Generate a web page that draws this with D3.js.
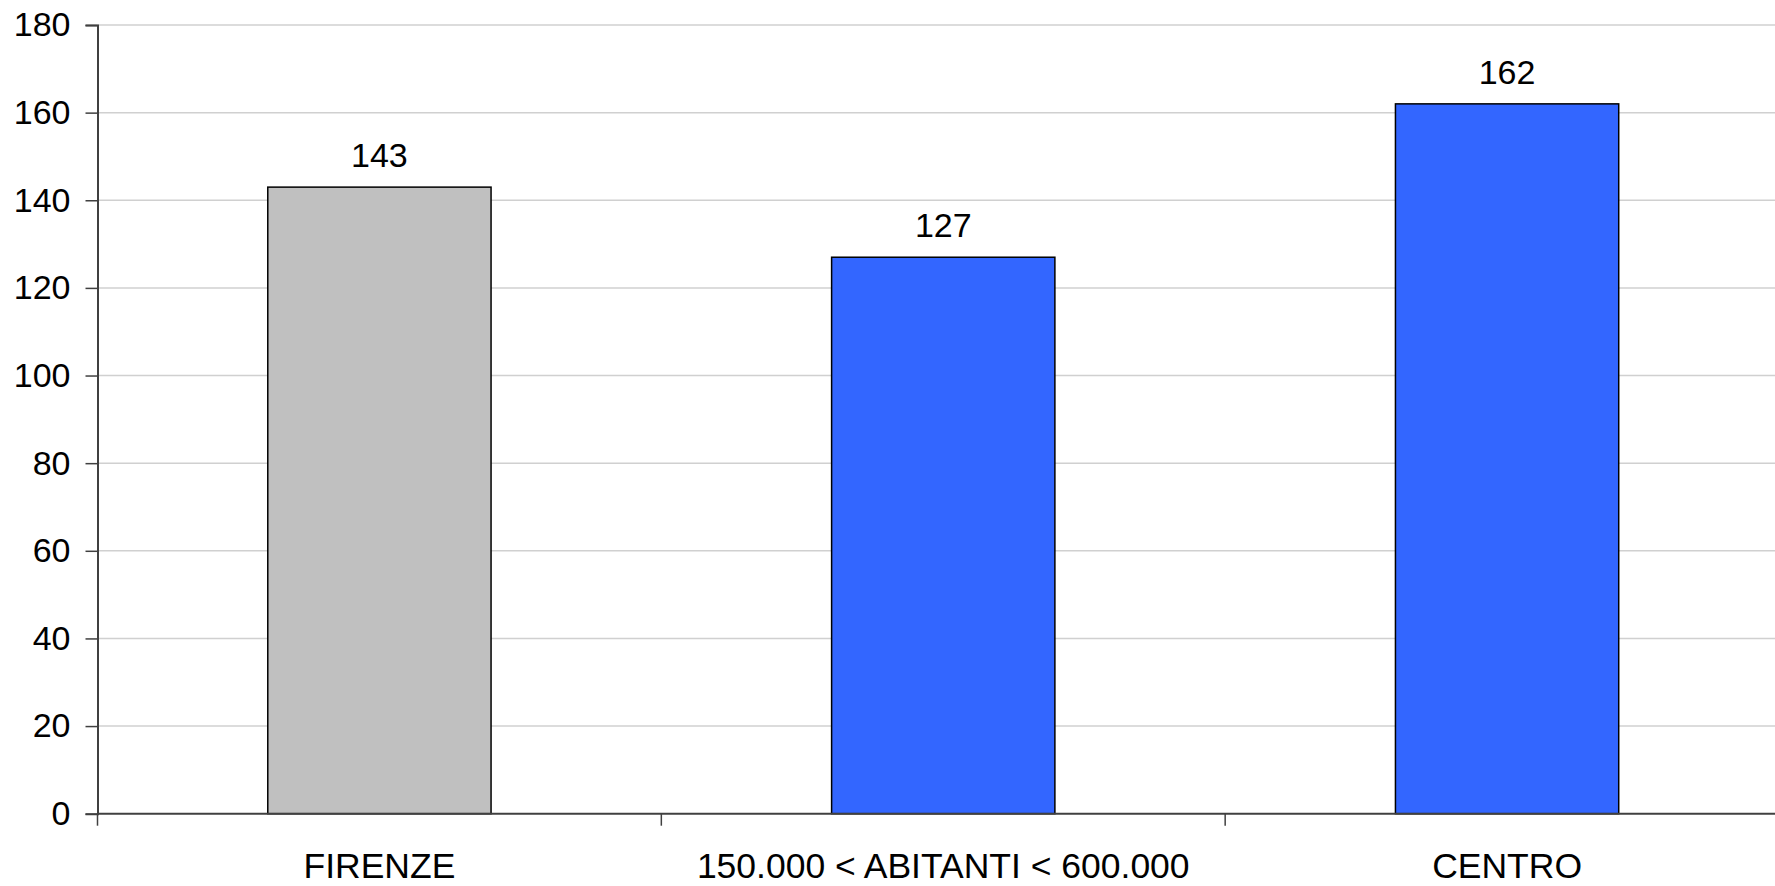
<!DOCTYPE html>
<html>
<head>
<meta charset="utf-8">
<script src="https://cdn.jsdelivr.net/npm/d3@7"></script>
<style>
  html, body { margin: 0; padding: 0; background: #fff; overflow: hidden; }
  text { font-family: "Liberation Sans", Arial, sans-serif; fill: #000; }
</style>
</head>
<body>
<svg id="chart" width="1775" height="886"></svg>
<script>
const categories = ["FIRENZE", "150.000 < ABITANTI < 600.000", "CENTRO"];
const values = [143, 127, 162];
const barColors = ["#c0c0c0", "#3366ff", "#3366ff"];
const yTicks = [0, 20, 40, 60, 80, 100, 120, 140, 160, 180];

const svg = d3.select("#chart");
const mLeft = 97.5, mRight = 1789, mTop = 25, mBottom = 813.7;

const x = d3.scaleBand().domain(categories).range([mLeft, mRight])
  .paddingInner(0.604).paddingOuter(0.302);
const y = d3.scaleLinear().domain([0, 180]).range([mBottom, mTop]);

// gridlines
svg.append("g").selectAll("line").data(yTicks.filter(d => d > 0)).join("line")
  .attr("x1", mLeft).attr("x2", mRight)
  .attr("y1", d => y(d)).attr("y2", d => y(d))
  .attr("stroke", "#d0d0d0").attr("stroke-width", 1.5);

// bars
svg.append("g").selectAll("rect").data(values).join("rect")
  .attr("x", (d, i) => x(categories[i]))
  .attr("y", d => y(d))
  .attr("width", x.bandwidth())
  .attr("height", d => y(0) - y(d))
  .attr("fill", (d, i) => barColors[i])
  .attr("stroke", "#000").attr("stroke-width", 1.5);

// value labels
svg.append("g").selectAll("text").data(values).join("text")
  .attr("x", (d, i) => x(categories[i]) + x.bandwidth() / 2)
  .attr("y", d => y(d) - 20)
  .attr("text-anchor", "middle")
  .attr("font-size", 34)
  .text(d => d);

// y axis
const yAxis = svg.append("g").attr("transform", `translate(${mLeft},0)`)
  .call(d3.axisLeft(y).tickValues(yTicks).tickSize(12).tickPadding(15));
yAxis.select(".domain").attr("stroke", "#404040").attr("stroke-width", 2);
yAxis.selectAll(".tick line").attr("stroke", "#404040").attr("stroke-width", 1.5);
yAxis.selectAll(".tick text").attr("font-size", 34)
  .attr("font-family", "Liberation Sans, Arial, sans-serif").attr("fill", "#000");

// x axis
const step = x.step();
const xBoundaries = categories.map((c, i) => mLeft + i * step).concat([mLeft + categories.length * step]);
const xg = svg.append("g");
xg.append("line").attr("x1", mLeft).attr("x2", mRight)
  .attr("y1", y(0)).attr("y2", y(0))
  .attr("stroke", "#404040").attr("stroke-width", 2);
xg.selectAll("line.tk").data(xBoundaries).join("line").attr("class", "tk")
  .attr("x1", d => d).attr("x2", d => d)
  .attr("y1", y(0)).attr("y2", y(0) + 12)
  .attr("stroke", "#404040").attr("stroke-width", 1.5);
xg.selectAll("text").data(categories).join("text")
  .attr("x", d => x(d) + x.bandwidth() / 2)
  .attr("y", 878)
  .attr("text-anchor", "middle")
  .attr("font-size", 35.5)
  .text(d => d);
</script>
</body>
</html>
